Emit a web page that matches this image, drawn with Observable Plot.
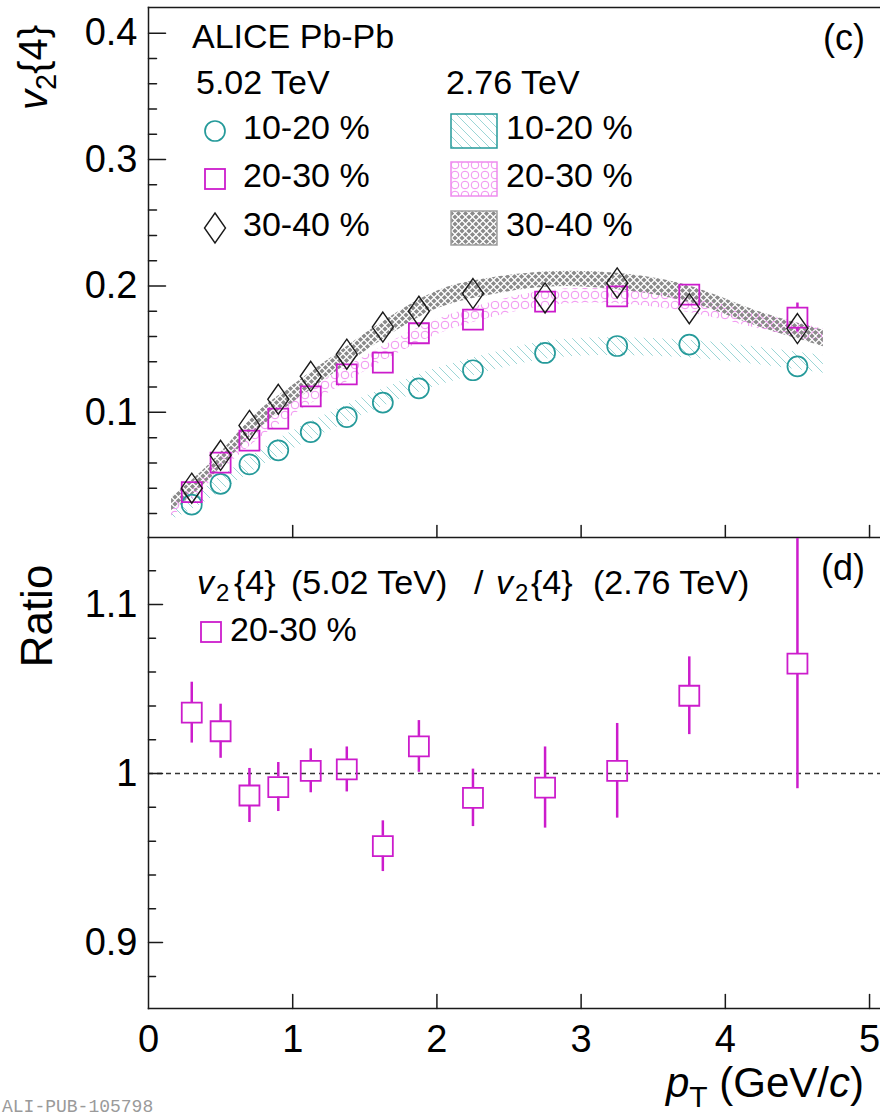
<!DOCTYPE html>
<html><head><meta charset="utf-8">
<script src="https://cdn.jsdelivr.net/npm/d3@7"></script>
<script src="https://cdn.jsdelivr.net/npm/@observablehq/plot@0.6"></script>
<style>
html,body{margin:0;padding:0;background:#fff;overflow:hidden;}
#wrap{position:relative;width:880px;height:1118px;font-family:"Liberation Sans",Arial,sans-serif;}
#wrap svg{position:absolute;left:0;overflow:visible;}
</style></head><body><div id="wrap"></div>
<script>
// ---------- data ----------
const pT       = [0.3, 0.5, 0.7, 0.9, 1.125, 1.375, 1.625, 1.875, 2.25, 2.75, 3.25, 3.75, 4.5];
const v2_1020  = [0.027, 0.0435, 0.0588, 0.070, 0.0844, 0.0963, 0.1077, 0.119, 0.1333, 0.147, 0.1525, 0.1536, 0.1364];
const v2_2030  = [0.0369, 0.0602, 0.0776, 0.095, 0.1127, 0.130, 0.1393, 0.1626, 0.1734, 0.1876, 0.1918, 0.1932, 0.175];
const err_2030 = [0, 0, 0, 0, 0, 0, 0, 0, 0, 0, 0, 0, 0.0115];
const v2_3040  = [0.040, 0.066, 0.0897, 0.1103, 0.1285, 0.146, 0.1675, 0.180, 0.194, 0.1905, 0.2024, 0.182, 0.1663];

// 2.76 TeV bands
const bandPt   = [0.16, 0.3, 0.5, 0.7, 0.9, 1.375, 1.875, 2.25, 2.75, 3.25, 3.75, 4.2, 4.68];
const band1020Lo = [0.015, 0.023, 0.037, 0.052, 0.065, 0.092, 0.116, 0.129, 0.142, 0.145, 0.143, 0.138, 0.131];
const band1020Hi = [0.023, 0.033, 0.049, 0.064, 0.079, 0.106, 0.130, 0.143, 0.156, 0.159, 0.157, 0.152, 0.145];
const band2030Lo = [0.018, 0.030, 0.053, 0.073, 0.090, 0.124, 0.155, 0.171, 0.184, 0.186, 0.179, 0.167, 0.155];
const band2030Hi = [0.026, 0.041, 0.064, 0.084, 0.102, 0.136, 0.167, 0.183, 0.196, 0.197, 0.191, 0.179, 0.166];
const band3040Lo = [0.022, 0.034, 0.056, 0.080, 0.099, 0.138, 0.175, 0.190, 0.199, 0.197, 0.187, 0.169, 0.152];
const band3040Hi = [0.033, 0.046, 0.068, 0.094, 0.113, 0.152, 0.189, 0.204, 0.211, 0.210, 0.200, 0.181, 0.165];

// ratio 20-30 %
const ratio    = [1.036, 1.025, 0.987, 0.992, 1.0016, 1.0024, 0.957, 1.016, 0.9856, 0.9917, 1.0016, 1.046, 1.065];
const ratioErr = [0.018, 0.016, 0.016, 0.0145, 0.013, 0.0133, 0.015, 0.0153, 0.017, 0.024, 0.028, 0.023, 0.074];
const refLine  = [1];

// ticks
const xTicks      = [1, 2, 3, 4, 5];
const xTickLabels = ["0", "1", "2", "3", "4", "5"];
const xLabelTicks = [0, 1, 2, 3, 4, 5];
const yTopMajor   = [0.1, 0.2, 0.3, 0.4];
const yTopMinor   = [0.02,0.04,0.06,0.08,0.12,0.14,0.16,0.18,0.22,0.24,0.26,0.28,0.32,0.34,0.36,0.38];
const yTopLabels  = ["0.1", "0.2", "0.3", "0.4"];
const yLowMajor   = [0.9, 1.0, 1.1];
const yLowMinor   = [0.88,0.92,0.94,0.96,0.98,1.02,1.04,1.06,1.08,1.12];
const yLowLabels  = ["0.9", "1", "1.1"];

// ---------- styles ----------
const TEAL = "#259a9a", MAG = "#cc1ccc", INK = "#1a1a1a";
const FONT = "Liberation Sans, Arial, Helvetica, sans-serif";

const rows = pT.map((x, i) => ({pt: x, a: v2_1020[i], b: v2_2030[i], be: err_2030[i], c: v2_3040[i]}));
const band = (lo, hi) => bandPt.map((x, i) => ({pt: x, lo: lo[i], hi: hi[i]}));
const rRows = pT.map((x, i) => ({pt: x, r: ratio[i], e: ratioErr[i]}));

const tickShape = {draw(ctx, l) { ctx.moveTo(0, 0); ctx.lineTo(0, -l); }};
const squareSym = {draw(ctx, size) { const r = Math.sqrt(size / Math.PI); ctx.rect(-r, -r, 2 * r, 2 * r); }};
const diamondSym = {draw(ctx, size) { const r = Math.sqrt(size / Math.PI);
  ctx.moveTo(0, -1.5 * r); ctx.lineTo(1.05 * r, 0); ctx.lineTo(0, 1.5 * r); ctx.lineTo(-1.05 * r, 0); ctx.closePath(); }};

const xDomain = [0, 5.076];
const axStroke = {stroke: INK, strokeWidth: 1.5};

const upper = Plot.plot({
  width: 880, height: 538, marginLeft: 148, marginRight: 0, marginTop: 7, marginBottom: 1,
  x: {domain: xDomain, axis: null}, y: {domain: [0.001, 0.4203], axis: null},
  style: {fontFamily: FONT, background: "transparent", overflow: "visible", color: "#000"},
  marks: [
    Plot.areaY(band(band1020Lo, band1020Hi), {x: "pt", y1: "lo", y2: "hi", fill: "url(#patTeal)", curve: "natural"}),
    Plot.areaY(band(band2030Lo, band2030Hi), {x: "pt", y1: "lo", y2: "hi", fill: "url(#patPink)", curve: "natural"}),
    Plot.areaY(band(band3040Lo, band3040Hi), {x: "pt", y1: "lo", y2: "hi", fill: "url(#patGray)", curve: "natural"}),
    Plot.dot(rows, {x: "pt", y: "a", r: 10, stroke: TEAL, strokeWidth: 1.7, fill: "none"}),
    Plot.dot(rows, {x: "pt", y: "b", r: 10, symbol: squareSym, stroke: MAG, strokeWidth: 1.8, fill: "none"}),
    Plot.dot(rows, {x: "pt", y: "c", r: 10, symbol: diamondSym, stroke: INK, strokeWidth: 1.4, fill: "none"}),
    Plot.ruleX(rows.filter(d => d.be > 0), {x: "pt", y1: d => d.b + d.be, y2: "b", insetBottom: 10, stroke: MAG, strokeWidth: 2.5}),
    Plot.ruleX(rows.filter(d => d.be > 0), {x: "pt", y1: "b", y2: d => d.b - d.be, insetTop: 10, stroke: MAG, strokeWidth: 2.5}),
    Plot.frame({anchor: "left", ...axStroke}),
    Plot.frame({anchor: "top", ...axStroke}),
    Plot.frame({anchor: "bottom", ...axStroke}),
    Plot.vector(yTopMajor, {y: d => d, frameAnchor: "left", length: 17, rotate: 90, anchor: "start", shape: tickShape, ...axStroke}),
    Plot.vector(yTopMinor, {y: d => d, frameAnchor: "left", length: 8, rotate: 90, anchor: "start", shape: tickShape, ...axStroke}),
    Plot.vector(xTicks, {x: d => d, frameAnchor: "bottom", length: 12, rotate: 0, anchor: "start", shape: tickShape, ...axStroke}),
    Plot.axisY({ticks: yTopMajor, tickSize: 0, tickPadding: 11, fontSize: 38, label: null,
      tickFormat: d => yTopLabels[yTopMajor.indexOf(d)]})
  ]
});
upper.style.top = "0px";

const lower = Plot.plot({
  width: 880, height: 581, marginLeft: 148, marginRight: 0, marginTop: 0, marginBottom: 110,
  x: {domain: xDomain, axis: null}, y: {domain: [0.861, 1.1396], axis: null},
  style: {fontFamily: FONT, background: "transparent", overflow: "visible", color: "#000"},
  marks: [
    Plot.ruleY(refLine, {stroke: "#333", strokeWidth: 1.5, strokeDasharray: "5,4"}),
    Plot.ruleX(rRows, {x: "pt", y1: d => Math.min(d.r + d.e, 1.1396), y2: "r", insetBottom: 10, stroke: MAG, strokeWidth: 2.5}),
    Plot.ruleX(rRows, {x: "pt", y1: "r", y2: d => d.r - d.e, insetTop: 10, stroke: MAG, strokeWidth: 2.5}),
    Plot.dot(rRows, {x: "pt", y: "r", r: 10, symbol: squareSym, stroke: MAG, strokeWidth: 1.8, fill: "none"}),
    Plot.frame({anchor: "left", ...axStroke}),
    Plot.frame({anchor: "bottom", ...axStroke}),
    Plot.vector(yLowMajor, {y: d => d, frameAnchor: "left", length: 14, rotate: 90, anchor: "start", shape: tickShape, ...axStroke}),
    Plot.vector(yLowMinor, {y: d => d, frameAnchor: "left", length: 7, rotate: 90, anchor: "start", shape: tickShape, ...axStroke}),
    Plot.vector(xTicks, {x: d => d, frameAnchor: "bottom", length: 14, rotate: 0, anchor: "start", shape: tickShape, ...axStroke}),
    Plot.axisY({ticks: yLowMajor, tickSize: 0, tickPadding: 11, fontSize: 38, label: null,
      tickFormat: d => yLowLabels[yLowMajor.indexOf(d)]}),
    Plot.axisX({ticks: xLabelTicks, tickSize: 0, tickPadding: 17, fontSize: 38, label: null,
      tickFormat: d => xTickLabels[xLabelTicks.indexOf(d)]})
  ]
});
lower.style.top = "537px";

const wrap = document.getElementById("wrap");
wrap.appendChild(upper);
wrap.appendChild(lower);

// ---------- patterns ----------
const U = d3.select(upper);
const defs = U.append("defs");
const pt = defs.append("pattern").attr("id", "patTeal").attr("patternUnits", "userSpaceOnUse").attr("width", 9).attr("height", 9);
pt.append("path").attr("d", "M0,0L9,9M-9,0L0,9M0,-9L9,0").attr("stroke", "#9cd6d6").attr("stroke-width", 1).attr("fill", "none");
const pp = defs.append("pattern").attr("id", "patPink").attr("patternUnits", "userSpaceOnUse").attr("width", 10).attr("height", 10);
pp.append("circle").attr("cx", 5).attr("cy", 5).attr("r", 3.8).attr("stroke", "#f08ef0").attr("stroke-width", 1).attr("fill", "none");
const pg = defs.append("pattern").attr("id", "patGray").attr("patternUnits", "userSpaceOnUse").attr("width", 7).attr("height", 7);
pg.append("path").attr("d", "M3.5,0.9L6.1,3.5L3.5,6.1L0.9,3.5Z M0,-2.6L2.6,0L0,2.6L-2.6,0Z M7,-2.6L9.6,0L7,2.6L4.4,0Z M0,4.4L2.6,7L0,9.6L-2.6,7Z M7,4.4L9.6,7L7,9.6L4.4,7Z").attr("fill", "#8a8a8a");

// ---------- texts & legend (upper) ----------
const T = (sel, x, y, size, anchor = "start") => sel.append("text").attr("x", x).attr("y", y)
  .attr("font-size", size).attr("text-anchor", anchor).attr("fill", "#000").attr("font-family", FONT).attr("xml:space", "preserve");

const yl = U.append("text").attr("transform", "translate(47,25) rotate(-90)").attr("text-anchor", "end")
  .attr("font-size", 40).attr("font-family", FONT).attr("fill", "#000");
yl.append("tspan").attr("font-style", "italic").text("v");
yl.append("tspan").attr("font-size", 29).attr("dy", 9).text("2");
yl.append("tspan").attr("dy", -9).text("{4}");

T(U, 192, 48, 34).text("ALICE Pb-Pb");
T(U, 196, 94, 34).text("5.02 TeV");
T(U, 446, 94, 34).text("2.76 TeV");
T(U, 865, 50, 36, "end").text("(c)");
const legRows = [
  {y: 131, label: "10-20 %", pat: "url(#patTeal)", border: TEAL},
  {y: 179, label: "20-30 %", pat: "url(#patPink)", border: "#ee8cee"},
  {y: 228, label: "30-40 %", pat: "url(#patGray)", border: "#a0a0a0"}
];
U.append("circle").attr("cx", 215).attr("cy", 131).attr("r", 10).attr("fill", "none").attr("stroke", TEAL).attr("stroke-width", 1.7);
U.append("rect").attr("x", 205).attr("y", 169).attr("width", 20).attr("height", 20).attr("fill", "none").attr("stroke", MAG).attr("stroke-width", 1.8);
U.append("path").attr("d", "M215,213L225.5,228L215,243L204.5,228Z").attr("fill", "none").attr("stroke", INK).attr("stroke-width", 1.4);
legRows.forEach(r => {
  T(U, 243, r.y + 8, 34).text(r.label);
  U.append("rect").attr("x", 451).attr("y", r.y - 17).attr("width", 46).attr("height", 34)
    .attr("fill", r.pat).attr("stroke", r.border).attr("stroke-width", 1.5);
  T(U, 506, r.y + 8, 34).text(r.label);
});

// ---------- texts & legend (lower) ----------
const L = d3.select(lower);
L.append("text").attr("transform", "translate(52,79) rotate(-90)").attr("text-anchor", "middle")
  .attr("font-size", 44).attr("font-family", FONT).attr("fill", "#000").text("Ratio");
const lt = T(L, 197, 57, 34);
lt.append("tspan").attr("font-style", "italic").text("v");
lt.append("tspan").attr("font-size", 24).attr("x", 216).attr("dy", 7).text("2");
lt.append("tspan").attr("x", 234).attr("dy", -7).text("{4}");
lt.append("tspan").attr("x", 291).text("(5.02 TeV)");
lt.append("tspan").attr("x", 474).text("/");
lt.append("tspan").attr("x", 496).attr("font-style", "italic").text("v");
lt.append("tspan").attr("font-size", 24).attr("x", 515).attr("dy", 7).text("2");
lt.append("tspan").attr("x", 531).attr("dy", -7).text("{4}");
lt.append("tspan").attr("x", 593).text("(2.76 TeV)");
L.append("rect").attr("x", 201).attr("y", 85).attr("width", 20).attr("height", 20).attr("fill", "none").attr("stroke", MAG).attr("stroke-width", 1.8);
T(L, 230, 104, 34).text("20-30 %");
T(L, 865, 43, 36, "end").text("(d)");

const xt = T(L, 864, 560, 42, "end");
xt.append("tspan").attr("font-style", "italic").text("p");
xt.append("tspan").attr("font-size", 30).attr("dy", 10).text("T");
xt.append("tspan").attr("dy", -10).text(" (GeV/");
xt.append("tspan").attr("font-style", "italic").text("c");
xt.append("tspan").text(")");

T(L, 2, 575, 18).attr("font-family", "Liberation Mono, DejaVu Sans Mono, monospace")
  .attr("fill", "#9a9a9a").text("ALI-PUB-105798");
</script></body></html>
